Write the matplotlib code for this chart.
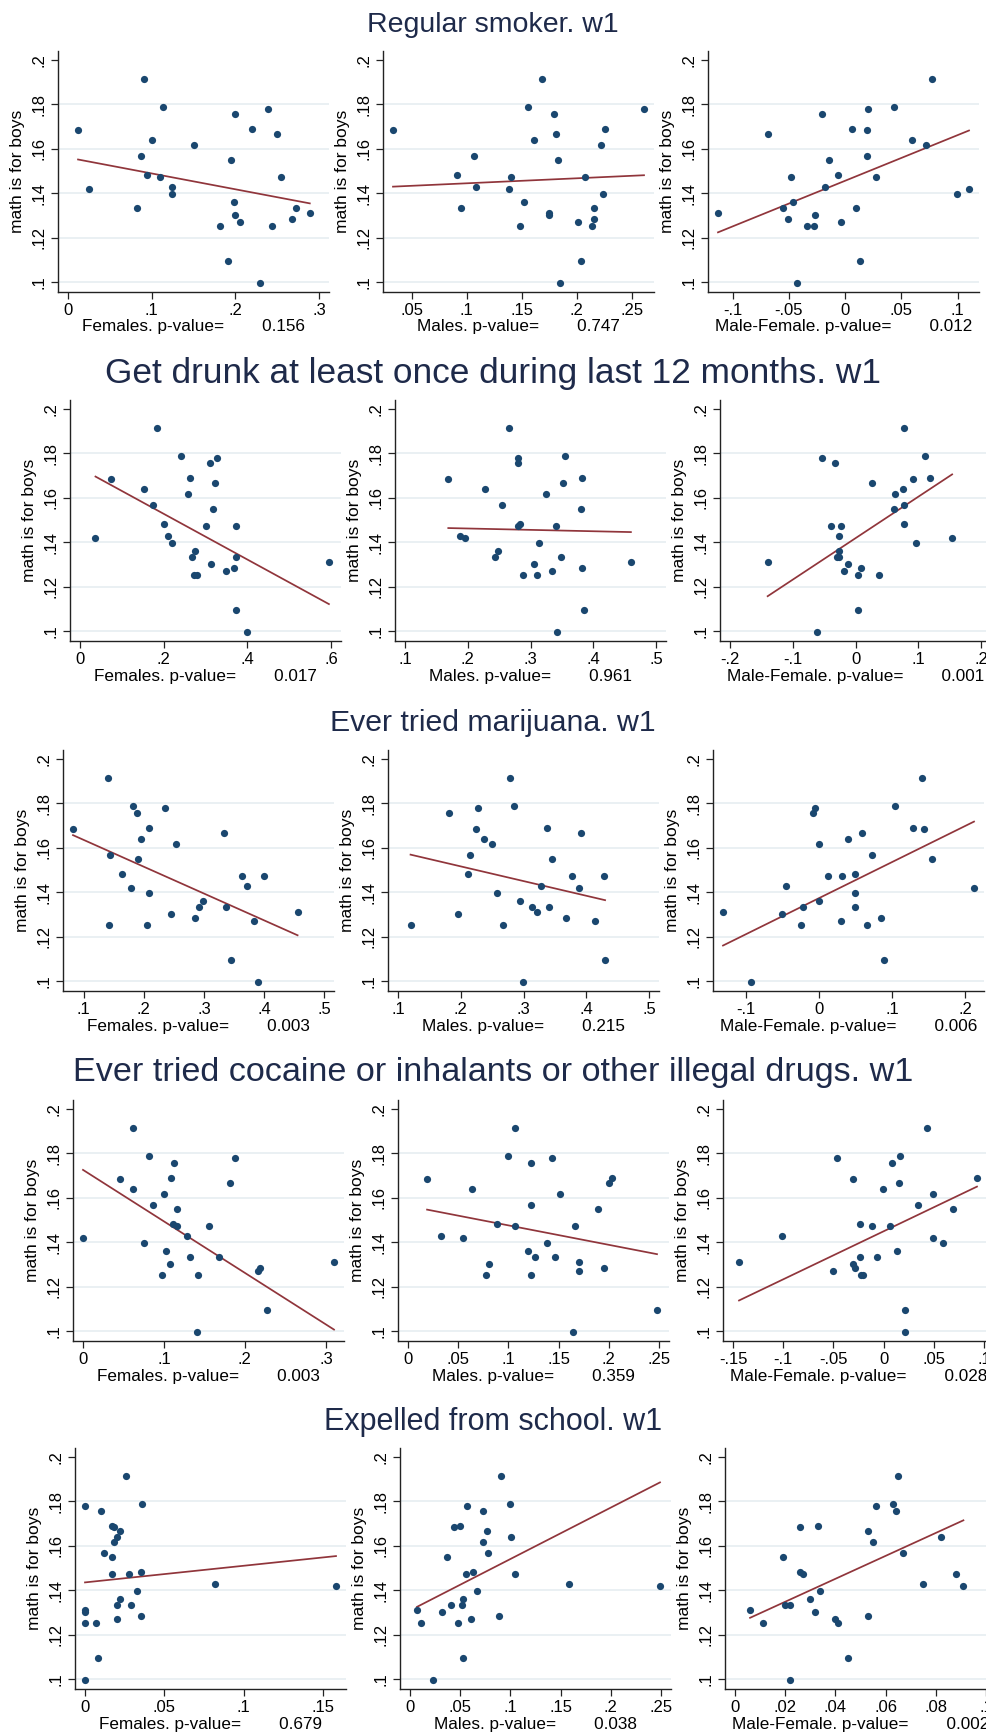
import numpy as np
import matplotlib
matplotlib.use("Agg")
import matplotlib.pyplot as plt

plt.rcParams['font.family'] = ['Liberation Sans', 'DejaVu Sans']

# y: share "math is for boys", one value per unit (same units in every panel)
math_boys = [.1912, .1790, .1780, .1756, .1689, .1683, .1665, .1640, .1616, .1567,
             .1549, .1485, .1474, .1474, .1427, .1419, .1398, .1360, .1335, .1335,
             .1311, .1303, .1287, .1270, .1253, .1253, .1096, .0997]

# Regular smoker
smoker_f = [.091, .113, .239, .200, .220, .012, .250, .100, .150, .087, .195, .095, .110, .254,
            .124, .025, .124, .198, .082, .272, .289, .200, .268, .206, .182, .244, .191, .230]
smoker_m = [.168, .156, .261, .179, .226, .033, .181, .161, .222, .107, .183, .091, .140, .207,
            .108, .138, .224, .152, .095, .216, .175, .175, .216, .201, .148, .214, .204, .185]
smoker_d = [.077, .043, .020, -.021, .006, .019, -.069, .059, .072, .019, -.014, -.006, .027, -.048,
            -.018, .110, .099, -.046, .010, -.055, -.113, -.027, -.051, -.004, -.034, -.028, .013, -.043]

# Get drunk
drunk_f = [.185, .241, .328, .310, .262, .075, .323, .154, .257, .174, .318, .201, .301, .374,
           .210, .037, .219, .275, .267, .374, .595, .313, .369, .349, .279, .272, .374, .400]
drunk_m = [.266, .355, .280, .280, .382, .169, .351, .228, .325, .254, .380, .284, .280, .340,
           .187, .195, .314, .249, .243, .349, .460, .306, .382, .335, .288, .311, .385, .342]
drunk_d = [.078, .110, -.053, -.032, .119, .092, .026, .075, .063, .078, .061, .078, -.023, -.039,
           -.027, .154, .096, -.027, -.030, -.026, -.140, -.012, .008, -.018, .004, .038, .004, -.062]

# Marijuana
marij_f = [.140, .182, .235, .188, .208, .082, .333, .196, .253, .143, .190, .164, .364, .400,
           .372, .178, .208, .298, .337, .292, .456, .245, .286, .384, .142, .205, .345, .390]
marij_m = [.279, .285, .228, .182, .337, .225, .391, .237, .250, .214, .346, .212, .377, .429,
           .328, .389, .257, .294, .314, .340, .322, .195, .368, .414, .120, .268, .430, .299]
marij_d = [.141, .104, -.006, -.008, .129, .144, .059, .039, -.001, .072, .155, .049, .012, .031,
           -.045, .212, .049, -.001, -.023, .049, -.132, -.051, .084, .030, -.025, .065, .089, -.093]

# Cocaine / inhalants / other drugs
drugs_f = [.062, .082, .188, .113, .109, .046, .181, .062, .100, .086, .116, .111, .116, .156,
           .128, .000, .075, .102, .132, .168, .310, .107, .219, .216, .097, .142, .227, .141]
drugs_m = [.107, .100, .143, .123, .203, .019, .200, .064, .151, .123, .189, .089, .107, .166,
           .033, .055, .138, .120, .126, .146, .170, .081, .195, .170, .078, .123, .248, .164]
drugs_d = [.043, .016, -.046, .008, .093, -.030, .015, -.001, .049, .034, .069, -.024, -.012, .006,
           -.101, .049, .059, .013, -.007, -.024, -.144, -.030, -.028, -.050, -.023, -.021, .021, .021]

# Expelled from school
expel_f = [.026, .036, .000, .010, .017, .018, .022, .020, .018, .012, .017, .035, .017, .028,
           .082, .158, .033, .022, .020, .029, .000, .000, .035, .020, .000, .007, .008, .000]
expel_m = [.091, .100, .057, .073, .050, .044, .077, .101, .073, .078, .037, .063, .105, .056,
           .158, .249, .067, .053, .041, .052, .007, .032, .089, .061, .011, .048, .053, .023]
expel_d = [.065, .063, .056, .064, .033, .026, .053, .082, .055, .067, .019, .026, .088, .027,
           .075, .091, .034, .030, .020, .022, .006, .032, .053, .040, .011, .041, .045, .022]

row_titles = ["Regular smoker. w1",
              "Get drunk at least once during last 12 months. w1",
              "Ever tried marijuana. w1",
              "Ever tried cocaine or inhalants or other illegal drugs. w1",
              "Expelled from school. w1"]
col_names = ["Females", "Males", "Male-Female"]

# linear fit lines: intercept, slope
fit_a = [[.1561, .1423, .1457], [.1734, .1475, .1419], [.1756, .1649, .1375],
         [.1726, .1564, .1450], [.1436, .1310, .1246]]
fit_b = [[-.0712, .0225, .2052], [-.1027, -.0062, .1862], [-.1203, -.0660, .1619],
         [-.2315, -.0874, .2159], [.0749, .2311, .5154]]

p_values = [[.156, .747, .012], [.017, .961, .001], [.003, .215, .006],
            [.003, .359, .028], [.679, .038, .002]]

x_ticks = [[[0, .1, .2, .3], [.05, .1, .15, .2, .25], [-.1, -.05, 0, .05, .1]],
           [[0, .2, .4, .6], [.1, .2, .3, .4, .5], [-.2, -.1, 0, .1, .2]],
           [[.1, .2, .3, .4, .5], [.1, .2, .3, .4, .5], [-.1, 0, .1, .2]],
           [[0, .1, .2, .3], [0, .05, .1, .15, .2, .25], [-.15, -.1, -.05, 0, .05, .1]],
           [[0, .05, .1, .15], [0, .05, .1, .15, .2, .25], [0, .02, .04, .06, .08, .1]]]
y_ticks = [.1, .12, .14, .16, .18, .2]
grid_levels = [.1, .12, .14, .16, .18]

row_data = [(smoker_f, smoker_m, smoker_d), (drunk_f, drunk_m, drunk_d),
            (marij_f, marij_m, marij_d), (drugs_f, drugs_m, drugs_d),
            (expel_f, expel_m, expel_d)]

# layout in pixels (each row was pasted in at a slightly different scale)
W, H = 986, 1736
row_top = [51, 400, 750, 1100, 1448]
row_left = [58, 70, 63, 73, 75]
title_y = [25, 373, 723, 1073, 1422]
title_size = [20.5, 25.4, 21.8, 24.6, 22.0]
col_step = 325
pw, ph = 271, 241

navy = '#1a476f'
maroon = '#90353b'
grid_c = '#e4ecf0'
title_c = '#1e2a4a'


def stata_fmt(v):
    s = f"{v:g}"
    if s.startswith("0."):
        s = s[1:]
    elif s.startswith("-0."):
        s = "-" + s[2:]
    return s


def pad_range(lo, hi):
    m = (hi - lo) * 10.0 / (pw - 20)
    return lo - m, hi + m


fig = plt.figure(figsize=(W / 100, H / 100), dpi=100)
fig.patch.set_facecolor('white')

y = np.array(math_boys)
for r in range(5):
    fig.text(0.5, 1 - title_y[r] / H, row_titles[r], ha='center', va='center',
             fontsize=title_size[r], color=title_c)
    for c in range(3):
        x = np.array(row_data[r][c])
        left = row_left[r] + c * col_step
        ax = fig.add_axes([left / W, 1 - (row_top[r] + ph) / H, pw / W, ph / H])

        for g in grid_levels:
            ax.axhline(g, color=grid_c, lw=1.1, zorder=0)

        ax.scatter(x, y, s=27, color=navy, zorder=3, linewidths=0)
        xs = np.array([x.min(), x.max()])
        ax.plot(xs, fit_a[r][c] + fit_b[r][c] * xs, color=maroon, lw=1.25, zorder=2)

        xt = x_ticks[r][c]
        ax.set_xlim(*pad_range(min(xt[0], x.min()), max(xt[-1], x.max())))
        ax.set_ylim(*pad_range(min(y_ticks[0], y.min()), max(y_ticks[-1], y.max())))
        ax.set_xticks(xt)
        ax.set_xticklabels([stata_fmt(v) for v in xt])
        ax.set_yticks(y_ticks)
        ax.set_yticklabels([stata_fmt(v) for v in y_ticks], rotation=90, va='center')

        for side in ['top', 'right']:
            ax.spines[side].set_visible(False)
        for side in ['left', 'bottom']:
            ax.spines[side].set_linewidth(1.0)
            ax.spines[side].set_color('#222222')
        ax.tick_params(length=5, width=0.9, color='#222222', labelsize=12, pad=3)

        ax.set_ylabel("math is for boys", fontsize=12.5, labelpad=5)
        ax.set_xlabel(f"{col_names[c]}. p-value=" + " " * 8 + f"{p_values[r][c]:.3f}",
                      fontsize=12.3, labelpad=1)

fig.savefig("out.png", dpi=100)
